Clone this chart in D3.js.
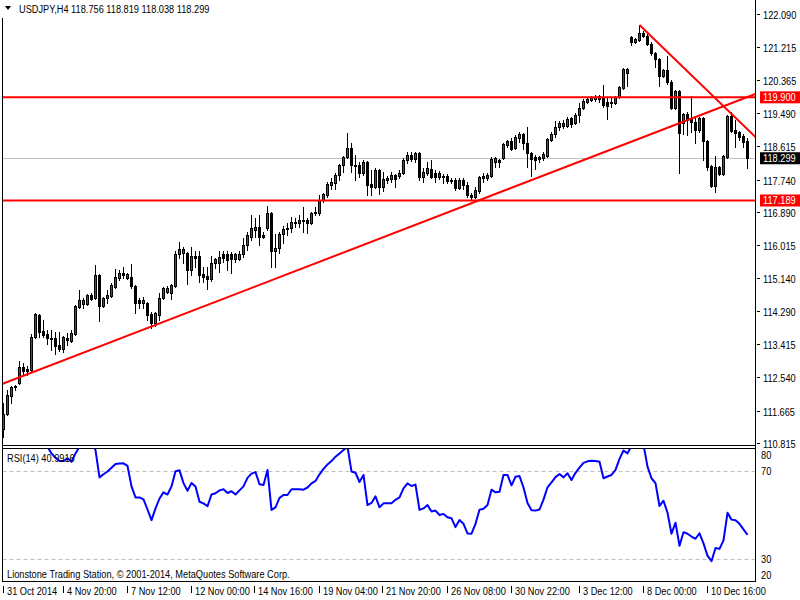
<!DOCTYPE html>
<html><head><meta charset="utf-8">
<script src="https://cdn.jsdelivr.net/npm/d3@7/dist/d3.min.js"></script>
<style>
body{margin:0;background:#fff;}
svg text{font-family:"Liberation Sans",Arial,sans-serif;font-size:11px;fill:#000;}
</style>
</head><body><svg id="c" width="800" height="600"></svg>
<script>
// ---------- DATA ----------
const symbol = "USDJPY,H4";
const opens = [111.184,111.578,112.051,112.288,112.393,112.813,112.761,112.734,113.602,114.180,113.759,113.680,113.575,113.575,113.391,113.286,113.575,113.497,113.680,114.390,114.469,114.469,114.705,114.627,115.231,114.416,114.627,114.679,114.916,115.152,115.284,115.152,115.178,114.942,114.574,114.495,114.495,114.206,113.970,114.180,114.627,114.784,114.758,114.942,115.783,115.809,115.809,115.362,115.730,115.730,115.257,115.205,115.126,115.546,115.546,115.783,115.783,115.783,115.651,115.651,115.783,116.019,116.230,116.414,116.492,116.282,116.466,116.860,115.862,115.941,116.308,116.440,116.466,116.624,116.598,116.676,116.676,116.598,116.860,116.860,117.202,117.333,117.596,117.649,117.859,118.122,118.332,118.569,118.122,118.122,117.912,118.201,117.622,117.544,117.990,117.544,117.728,117.754,117.859,117.833,117.912,118.253,118.385,118.279,118.437,117.806,117.912,118.017,117.912,117.806,117.833,117.833,117.728,117.728,117.517,117.728,117.596,117.333,117.281,117.439,117.780,117.780,117.833,118.201,118.253,118.306,118.647,118.753,118.569,118.831,118.936,118.700,118.437,118.332,118.279,118.306,118.358,118.779,118.936,119.120,119.147,119.147,119.357,119.226,119.436,119.620,119.777,119.830,119.856,119.856,119.909,119.777,119.777,119.751,119.909,120.145,120.540,121.486,121.354,121.407,121.591,121.512,121.302,121.065,120.907,120.461,120.618,120.303,119.620,120.067,119.226,119.462,119.357,119.252,119.042,119.357,118.753,118.096,117.570,118.069,117.885,118.332,119.410,119.042,118.989,118.884,118.756];
const highs = [111.867,112.209,112.314,112.340,112.971,112.918,112.840,113.680,114.232,114.206,114.048,113.786,113.786,113.733,113.733,113.628,113.707,113.786,114.443,114.837,114.627,114.732,114.758,115.494,115.257,114.653,114.837,115.021,115.389,115.362,115.441,115.284,115.520,114.968,114.627,114.653,114.521,114.259,114.259,114.758,114.916,114.942,114.994,115.862,116.098,115.967,115.835,115.967,115.862,115.862,115.441,115.441,115.730,115.678,115.862,115.862,115.862,115.835,115.809,115.862,116.203,116.361,116.808,116.729,116.808,116.361,117.044,116.887,116.308,116.361,116.519,116.598,116.755,116.729,116.808,117.018,116.729,116.887,117.018,117.333,117.386,117.675,117.780,117.912,118.148,118.358,118.963,118.700,118.385,118.201,118.253,118.227,117.990,118.043,118.017,117.938,117.833,117.938,117.885,117.990,118.306,118.463,118.463,118.463,118.463,118.043,118.201,118.253,117.990,117.964,117.885,117.885,117.780,117.780,117.780,117.780,117.675,117.386,117.544,117.833,117.912,117.912,118.332,118.332,118.279,118.700,118.779,118.831,118.910,118.989,118.963,119.120,118.463,118.385,118.358,118.463,118.831,118.989,119.278,119.278,119.304,119.383,119.383,119.488,119.751,119.856,119.909,119.935,119.961,119.961,120.224,119.883,119.883,119.935,120.198,120.671,120.671,121.512,121.459,121.801,121.643,121.564,121.354,121.091,120.934,120.645,120.986,120.356,120.093,120.093,119.488,119.515,119.935,119.357,119.383,119.383,118.779,118.122,118.358,118.096,118.385,119.436,119.515,119.304,119.015,118.936,118.819];
const lows = [110.974,111.552,111.867,112.209,112.366,112.603,112.603,112.708,113.575,113.602,113.602,113.418,113.260,113.155,113.234,113.207,113.391,113.470,113.654,114.364,114.364,114.443,114.574,114.600,114.022,114.390,114.495,114.653,114.889,115.100,115.152,115.126,114.889,114.232,114.364,114.364,114.048,113.838,113.891,114.048,114.600,114.758,114.600,114.916,115.678,115.546,114.994,115.231,115.441,115.047,115.047,114.863,115.073,115.415,115.310,115.573,115.362,115.284,115.573,115.625,115.704,115.888,116.151,116.230,116.019,116.203,116.414,115.441,115.441,115.809,116.072,116.282,116.361,116.492,116.492,116.361,116.335,116.571,116.808,116.808,117.149,117.281,117.491,117.491,117.728,117.938,118.306,117.938,117.728,117.806,117.859,117.333,117.333,117.517,117.360,117.439,117.649,117.675,117.544,117.780,117.885,118.174,118.227,118.201,117.728,117.675,117.859,117.780,117.675,117.754,117.649,117.649,117.649,117.465,117.491,117.491,117.281,117.202,117.255,117.386,117.675,117.728,117.806,118.069,118.069,118.279,118.595,118.516,118.542,118.726,118.542,118.069,117.833,118.017,118.201,118.253,118.332,118.753,118.858,119.042,119.094,119.120,119.120,119.199,119.252,119.593,119.751,119.804,119.804,119.777,119.646,119.331,119.646,119.725,119.883,120.119,120.198,121.275,121.328,121.381,121.486,121.275,121.013,120.697,120.198,120.434,120.250,119.593,119.593,117.912,118.936,118.910,118.989,118.700,118.989,118.253,117.990,117.544,117.412,117.859,117.859,118.306,118.989,118.595,118.779,118.595,118.038];
const closes = [111.578,112.077,112.288,112.314,112.813,112.708,112.708,113.602,114.206,113.733,113.654,113.575,113.549,113.365,113.286,113.602,113.523,113.707,114.416,114.574,114.574,114.705,114.600,115.231,114.416,114.627,114.705,114.968,115.178,115.284,115.231,115.257,114.942,114.495,114.495,114.574,114.180,113.970,114.232,114.627,114.889,114.889,114.968,115.783,115.914,115.914,115.362,115.730,115.678,115.231,115.178,115.126,115.546,115.651,115.704,115.678,115.625,115.651,115.783,115.783,116.019,116.282,116.466,116.492,116.230,116.230,116.860,115.862,115.941,116.308,116.440,116.466,116.624,116.598,116.676,116.650,116.598,116.860,116.887,117.202,117.360,117.622,117.675,117.859,118.122,118.332,118.569,118.122,118.096,117.912,118.201,117.596,117.544,117.990,117.544,117.754,117.780,117.859,117.754,117.912,118.253,118.385,118.279,118.437,117.806,117.938,118.043,117.806,117.806,117.912,117.806,117.701,117.701,117.517,117.728,117.596,117.333,117.281,117.465,117.806,117.833,117.859,118.279,118.306,118.201,118.674,118.753,118.542,118.858,118.936,118.700,118.437,118.279,118.253,118.332,118.411,118.805,118.936,119.120,119.226,119.226,119.331,119.199,119.436,119.620,119.804,119.856,119.909,119.909,119.935,119.699,119.672,119.751,119.909,120.172,120.645,120.645,121.354,121.433,121.591,121.512,121.302,121.065,120.907,120.461,120.618,120.303,119.620,120.067,118.963,119.462,119.304,119.252,119.042,119.357,118.753,118.069,117.570,118.069,117.885,118.358,119.410,119.015,118.963,118.858,118.726,118.299];
const priceTicks = [122.090,121.215,120.365,119.490,118.615,117.740,116.890,116.015,115.140,114.290,113.415,112.540,111.665,110.815];
const timeLabels = ["31 Oct 2014","4 Nov 20:00","7 Nov 12:00","12 Nov 00:00","14 Nov 16:00","19 Nov 04:00","21 Nov 20:00","26 Nov 08:00","30 Nov 22:00","3 Dec 12:00","8 Dec 00:00","10 Dec 16:00"];
const timeLabelIdx = [0,15,31,47,63,79,95,111,127,144,160,176];
const redLevels = [119.900, 117.189];
const trendUpIdx = [0, 186];
const trendUpPrice = [112.38, 119.91];
const trendDownIdx = [159, 186];
const trendDownPrice = [121.80, 119.06];
const rsiStart = 11;
const rsiVal = [81,78,76,74.5,74.5,75.8,74.2,78,81,84,84,83,79.5,67.1,68.5,69.8,71.5,73.2,73.4,73.5,72.3,63,58,58,57.1,52.5,47.7,53,57.5,60.3,59.3,63,69.9,70.3,64.5,61,64.6,63,56,55.3,54,59.3,59.9,61.2,61.7,60,60.8,59.3,61.2,63,66.9,68.8,69.5,64,63.6,70.5,52.3,53.5,57.8,59.1,59.1,61.7,61.7,61.7,61.5,62.5,64.4,65.5,68.5,71,73,74.5,76.5,78,79.5,81,69.8,69.2,65,68.2,54.5,55.5,58.5,53.5,55.3,55.3,55.3,56.9,58,62.1,64.4,63.2,63.8,52.3,53,54.5,51.6,52,50,50.5,49,48.5,44.5,47.7,46,41.6,41.5,46,52.4,52.8,54.5,61.5,60.3,60.6,68.2,68.2,63.5,67.4,67.7,62.5,55.5,52.2,52,52.5,57,62.6,64.8,67.2,68.6,67.1,69,65.9,69.2,71.5,73.7,74.4,74.7,74.5,74.2,66.7,67.5,68.2,70.5,75.5,79.3,78,81.5,85,86,82,72,66.7,64.5,54.1,56.5,51,41.5,46.5,36,42.2,41.5,40.2,39.2,41.7,37.1,31.5,29,35,34.6,38.5,51,47.9,47.6,46,43.5,40.99];
const rsiTicks = [80,70,30,20];
const rsiLevels = [70,30];
const rsiLabel = "RSI(14) 40.9916";
const copyright = "Lionstone Trading Station, \u00A9 2001-2014, MetaQuotes Software Corp.";

// ---------- DRAW ----------
const svg = d3.select("#c");
const N = opens.length;
const L = 2.5, R = 755.5, mainBot = 445.5, rsiTop = 448.5, rsiBot = 581.5;
const SX = 0.84; // horizontal text compression (narrow platform font)
const x = d3.scaleLinear().domain([0, 186]).range([3.5, 747.5]);
const y = d3.scaleLinear().domain([110.763, 122.458]).range([445, 0]);
const yr = d3.scaleLinear().domain([20, 80]).range([581, 449]);
const fmt = d3.format(".3f");
const BULL = "#ff0000";

function txt(g, tx, ty, s, col){
  const t = g.append("text").attr("transform",`translate(${tx},${ty}) scale(${SX},1)`).text(s);
  if (col) t.style("fill", col);
  return t;
}

svg.append("rect").attr("width",800).attr("height",600).attr("fill","#fff");

const defs = svg.append("defs");
defs.append("clipPath").attr("id","mainClip").append("rect").attr("x",3).attr("y",0).attr("width",752).attr("height",445);
defs.append("clipPath").attr("id","rsiClip").append("rect").attr("x",3).attr("y",449).attr("width",752).attr("height",132);

const main = svg.append("g").attr("clip-path","url(#mainClip)");

// current price line
const last = closes[N-1];
main.append("line").attr("x1",L).attr("x2",R)
  .attr("y1",Math.round(y(last))+0.5).attr("y2",Math.round(y(last))+0.5)
  .attr("stroke","#c0c0c0").attr("stroke-width",1);

const candles = d3.range(N).map(i => ({i, o:opens[i], h:highs[i], l:lows[i], c:closes[i]}));
const cg = main.append("g").attr("shape-rendering","crispEdges");
cg.selectAll("line.w").data(candles).join("line").attr("class","w")
  .attr("x1",d=>x(d.i)).attr("x2",d=>x(d.i))
  .attr("y1",d=>Math.round(y(d.h))).attr("y2",d=>Math.round(y(d.l))+1)
  .attr("stroke","#000").attr("stroke-width",1);
cg.selectAll("rect.b").data(candles).join("rect").attr("class","b")
  .attr("x",d=>x(d.i)-1)
  .attr("y",d=>Math.round(y(Math.max(d.o,d.c)))+0.5)
  .attr("width",2)
  .attr("height",d=>Math.max(1, Math.round(y(Math.min(d.o,d.c))) - Math.round(y(Math.max(d.o,d.c)))))
  .attr("fill",d=>d.c>=d.o?BULL:"#000")
  .attr("stroke","#000").attr("stroke-width",1);

// horizontal red levels
main.selectAll("line.lvl").data(redLevels).join("line").attr("class","lvl")
  .attr("x1",L).attr("x2",R).attr("y1",d=>y(d)).attr("y2",d=>y(d))
  .attr("stroke","#ff0000").attr("stroke-width",2);

// trend lines
function ray(idx, pr, extendLeft){
  const s = (pr[1]-pr[0])/(idx[1]-idx[0]);
  const iL = extendLeft ? x.invert(0) : idx[0];
  const iR = x.invert(R);
  return [[x(iL), y(pr[0]+s*(iL-idx[0]))],[x(iR), y(pr[0]+s*(iR-idx[0]))]];
}
[ray(trendUpIdx, trendUpPrice, true), ray(trendDownIdx, trendDownPrice, false)].forEach(p=>{
  main.append("line").attr("x1",p[0][0]).attr("y1",p[0][1]).attr("x2",p[1][0]).attr("y2",p[1][1])
    .attr("stroke","#ff0000").attr("stroke-width",2);
});

// RSI
const rg = svg.append("g").attr("clip-path","url(#rsiClip)");
rg.selectAll("line.rl").data(rsiLevels).join("line").attr("class","rl")
  .attr("x1",L).attr("x2",R).attr("y1",d=>Math.round(yr(d))+0.5).attr("y2",d=>Math.round(yr(d))+0.5)
  .attr("stroke","#c0c0c0").attr("stroke-dasharray","4,3").attr("stroke-width",1);
rg.append("path").datum(rsiVal.map((v,k)=>[rsiStart+k, v]))
  .attr("d", d3.line().x(d=>x(d[0])).y(d=>yr(d[1])))
  .attr("fill","none").attr("stroke","#0000ff").attr("stroke-width",2).attr("stroke-linejoin","round");

// frames
const fr = svg.append("g").attr("stroke","#000").attr("stroke-width",1).attr("shape-rendering","crispEdges");
fr.append("line").attr("x1",L).attr("x2",L).attr("y1",18).attr("y2",rsiBot);
fr.append("line").attr("x1",R).attr("x2",R).attr("y1",0).attr("y2",rsiBot);
fr.append("line").attr("x1",L).attr("x2",R).attr("y1",mainBot).attr("y2",mainBot);
fr.append("line").attr("x1",L).attr("x2",R).attr("y1",rsiTop).attr("y2",rsiTop);
fr.append("line").attr("x1",L).attr("x2",R).attr("y1",rsiBot).attr("y2",rsiBot);

// price axis
const ax = svg.append("g");
priceTicks.forEach(p=>{
  const yy = Math.round(y(p))+0.5;
  ax.append("line").attr("x1",757).attr("x2",760).attr("y1",yy).attr("y2",yy).attr("stroke","#000");
  txt(ax, 763, yy+4, fmt(p));
});
// price tags
function tag(p, col){
  const yy = y(p);
  ax.append("rect").attr("x",760).attr("y",yy-6).attr("width",40).attr("height",12).attr("fill",col);
  txt(ax, 763, yy+4, fmt(p), "#fff");
}
redLevels.forEach(p=>tag(p,"#ff0000"));
tag(last,"#000");

// rsi axis
rsiTicks.forEach(v=>{
  const yy = Math.max(455, Math.min(575, yr(v)));
  txt(ax, 761, yy+4, String(v));
});

// time axis
timeLabels.forEach((t,k)=>{
  const xx = Math.round(x(timeLabelIdx[k]))-0.5;
  ax.append("line").attr("x1",xx).attr("x2",xx).attr("y1",586).attr("y2",593).attr("stroke","#000");
  txt(ax, xx+3.5, 595, t);
});

// header
svg.append("path").attr("d","M5,6 L11,6 L8,10 Z").attr("fill","#000");
txt(svg, 19, 13, symbol + "  " + [opens[N-1],highs[N-1],lows[N-1],closes[N-1]].map(fmt).join(" "));
txt(svg, 7, 462, rsiLabel);
txt(svg, 7, 578, copyright);
</script>
</body></html>
